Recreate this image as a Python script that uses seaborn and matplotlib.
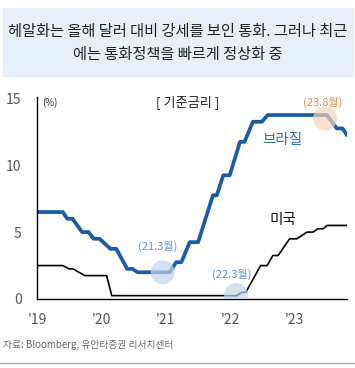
import pandas as pd
import matplotlib
matplotlib.use("Agg")
import matplotlib.pyplot as plt
import seaborn as sns

# 브라질 기준금리 (연도 경과, %)
brazil_t = [0.00, 0.40, 0.47, 0.55, 0.70, 0.80, 0.88, 0.97, 1.14, 1.23, 1.40, 1.48,
            1.56, 2.06, 2.16, 2.24, 2.37, 2.50, 2.73, 2.79, 2.89, 2.99, 3.15, 3.22,
            3.35, 3.49, 3.58, 4.50, 4.65, 4.74, 4.81]
brazil_v = [6.5, 6.5, 6.0, 6.0, 5.0, 5.0, 4.5, 4.5, 3.75, 3.75, 2.25, 2.25,
            2.0, 2.0, 2.75, 2.75, 4.25, 4.25, 7.75, 7.75, 9.25, 9.25, 11.75, 11.75,
            13.25, 13.25, 13.75, 13.75, 12.75, 12.75, 12.25]

# 미국 기준금리
us_t = [0.00, 0.40, 0.50, 0.56, 0.74, 1.08, 1.16, 3.10, 3.18, 3.24, 3.47, 3.57,
        3.66, 3.74, 3.92, 4.03, 4.19, 4.28, 4.36, 4.44, 4.50, 4.81]
us_v = [2.5, 2.5, 2.25, 2.25, 1.75, 1.75, 0.25, 0.25, 0.5, 0.5, 2.5, 2.5,
        3.25, 3.25, 4.5, 4.5, 5.0, 5.0, 5.25, 5.25, 5.5, 5.5]

xticks = [0, 1, 2, 3, 4]
xtick_labels = ["'19", "'20", "'21", "'22", "'23"]
yticks = [0, 5, 10, 15]

title = "헤알화는 올해 달러 대비 강세를 보인 통화. 그러나 최근\n에는 통화정책을 빠르게 정상화 중"
source = "자료: Bloomberg, 유안타증권 리서치센터"

sns.set_theme(style="white")
plt.rcParams["font.family"] = ["Noto Sans CJK KR", "DejaVu Sans"]

df_br = pd.DataFrame({"t": brazil_t, "rate": brazil_v})
df_us = pd.DataFrame({"t": us_t, "rate": us_v})

fig = plt.figure(figsize=(3.55, 3.68), dpi=100)

# 상단 제목 박스
fig.patches.append(plt.Rectangle((3 / 355, 1 - 76 / 368), 350 / 355, 68 / 368,
                                 transform=fig.transFigure, color="#e7f0fa", zorder=0))
fig.text(0.5, 1 - 43 / 368, title, ha="center", va="center", fontsize=11,
         color="#222222", linespacing=1.45)

ax = fig.add_axes([37 / 355, 69 / 368, 310 / 355, 202 / 368])
sns.lineplot(data=df_us, x="t", y="rate", ax=ax, color="black", linewidth=1.2)
sns.lineplot(data=df_br, x="t", y="rate", ax=ax, color="#1a5ca6", linewidth=2.7)

ax.set_xlim(0, 4.81)
ax.set_ylim(0, 15.1)
ax.set_xticks(xticks)
ax.set_xticklabels(xtick_labels)
ax.set_yticks(yticks)
ax.set_xlabel("")
ax.set_ylabel("")
for s in ["top", "right"]:
    ax.spines[s].set_visible(False)
for s in ["left", "bottom"]:
    ax.spines[s].set_color("black")
    ax.spines[s].set_linewidth(1.0)
ax.tick_params(axis="both", which="both", direction="out", length=4, width=1,
               color="black", labelcolor="#555555", labelsize=10)
ax.tick_params(axis="y", pad=7)
ax.tick_params(axis="x", pad=6)

# 강조 원
ax.scatter([1.95, 3.09], [2.0, 0.3], s=300, color="#c2d5ec", alpha=0.7,
           edgecolors="none", zorder=5)
ax.scatter([4.47], [13.5], s=300, color="#f7d2b9", alpha=0.7,
           edgecolors="none", zorder=5)

ax.text(1.88, 3.9, "(21.3월)", ha="center", va="center", fontsize=8, color="#5b93cf")
ax.text(3.02, 1.8, "(22.3월)", ha="center", va="center", fontsize=8, color="#5b93cf")
ax.text(4.43, 14.7, "(23.8월)", ha="center", va="center", fontsize=8, color="#e58d52")
ax.text(3.81, 11.85, "브라질", ha="center", va="center", fontsize=10.5, color="#2f6db3")
ax.text(3.81, 5.9, "미국", ha="center", va="center", fontsize=10.5, color="#111111")
ax.text(2.33, 14.7, "[ 기준금리 ]", ha="center", va="center", fontsize=9.5, color="#222222")
ax.text(0.2, 14.7, "(%)", ha="center", va="center", fontsize=7, color="#333333")

fig.text(3 / 355, 1 - 345 / 368, source, ha="left", va="center", fontsize=7,
         color="#666666")
fig.add_artist(plt.Line2D([0, 1], [1 - 362.5 / 368] * 2, transform=fig.transFigure,
                          color="#aaaaaa", linewidth=1))

fig.savefig("out.png", dpi=100)
